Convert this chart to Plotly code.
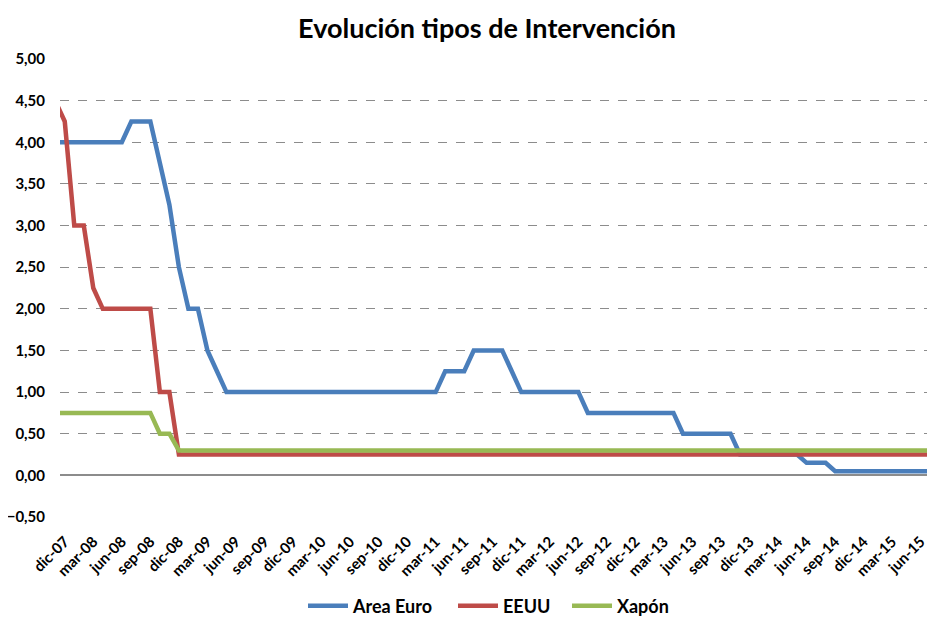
"""Evolución dos tipos de intervención: Area Euro, EEUU e Xapón."""

import plotly.graph_objects as go

MESES = ["ene", "feb", "mar", "abr", "may", "jun", "jul", "ago", "sep", "oct", "nov", "dic"]

# nov-07 queda fóra do rango visible (só se ve o tramo que entra polo bordo)
MES_ETIQUETAS = ["nov-07", "dic-07"] + [
    f"{m}-{a:02d}" for a in range(8, 16) for m in MESES
][:91]

AREA_EURO = [
    4.00, 4.00,
    4.00, 4.00, 4.00, 4.00, 4.00, 4.00, 4.25, 4.25, 4.25, 3.75, 3.25, 2.50,
    2.00, 2.00, 1.50, 1.25, 1.00, 1.00, 1.00, 1.00, 1.00, 1.00, 1.00, 1.00,
    1.00, 1.00, 1.00, 1.00, 1.00, 1.00, 1.00, 1.00, 1.00, 1.00, 1.00, 1.00,
    1.00, 1.00, 1.00, 1.25, 1.25, 1.25, 1.50, 1.50, 1.50, 1.50, 1.25, 1.00,
    1.00, 1.00, 1.00, 1.00, 1.00, 1.00, 0.75, 0.75, 0.75, 0.75, 0.75, 0.75,
    0.75, 0.75, 0.75, 0.75, 0.50, 0.50, 0.50, 0.50, 0.50, 0.50, 0.25, 0.25,
    0.25, 0.25, 0.25, 0.25, 0.25, 0.15, 0.15, 0.15, 0.05, 0.05, 0.05, 0.05,
    0.05, 0.05, 0.05, 0.05, 0.05, 0.05, 0.05,
]

EEUU = [
    4.50, 4.25,
    3.00, 3.00, 2.25, 2.00, 2.00, 2.00, 2.00, 2.00, 2.00, 1.00, 1.00, 0.25,
    0.25, 0.25, 0.25, 0.25, 0.25, 0.25, 0.25, 0.25, 0.25, 0.25, 0.25, 0.25,
    0.25, 0.25, 0.25, 0.25, 0.25, 0.25, 0.25, 0.25, 0.25, 0.25, 0.25, 0.25,
    0.25, 0.25, 0.25, 0.25, 0.25, 0.25, 0.25, 0.25, 0.25, 0.25, 0.25, 0.25,
    0.25, 0.25, 0.25, 0.25, 0.25, 0.25, 0.25, 0.25, 0.25, 0.25, 0.25, 0.25,
    0.25, 0.25, 0.25, 0.25, 0.25, 0.25, 0.25, 0.25, 0.25, 0.25, 0.25, 0.25,
    0.25, 0.25, 0.25, 0.25, 0.25, 0.25, 0.25, 0.25, 0.25, 0.25, 0.25, 0.25,
    0.25, 0.25, 0.25, 0.25, 0.25, 0.25, 0.25,
]

XAPON = [
    0.75, 0.75,
    0.75, 0.75, 0.75, 0.75, 0.75, 0.75, 0.75, 0.75, 0.75, 0.50, 0.50, 0.30,
    0.30, 0.30, 0.30, 0.30, 0.30, 0.30, 0.30, 0.30, 0.30, 0.30, 0.30, 0.30,
    0.30, 0.30, 0.30, 0.30, 0.30, 0.30, 0.30, 0.30, 0.30, 0.30, 0.30, 0.30,
    0.30, 0.30, 0.30, 0.30, 0.30, 0.30, 0.30, 0.30, 0.30, 0.30, 0.30, 0.30,
    0.30, 0.30, 0.30, 0.30, 0.30, 0.30, 0.30, 0.30, 0.30, 0.30, 0.30, 0.30,
    0.30, 0.30, 0.30, 0.30, 0.30, 0.30, 0.30, 0.30, 0.30, 0.30, 0.30, 0.30,
    0.30, 0.30, 0.30, 0.30, 0.30, 0.30, 0.30, 0.30, 0.30, 0.30, 0.30, 0.30,
    0.30, 0.30, 0.30, 0.30, 0.30, 0.30, 0.30,
]

SERIES = [("Area Euro", AREA_EURO, "#4A7EBB"), ("EEUU", EEUU, "#BE4B48"), ("Xapón", XAPON, "#98B954")]

# etiquetas cada tres meses, desde dic-07
TICKS_X = MES_ETIQUETAS[1::3]

FONT = "Lato"

# a páxina leva 8px de marxe no body: o gráfico vai desprazado esa cantidade
OFF = 8
W, H = 927, 610

# inicio (px na páxina) da liña de cada entrada da lenda
LEGEND_X = [308, 458, 572]
LEGEND_Y = 606

fig = go.Figure()
leg_layout = {}
for i, (nome, valores, cor) in enumerate(SERIES):
    key = "legend" if i == 0 else f"legend{i + 1}"
    fig.add_trace(
        go.Scatter(
            x=MES_ETIQUETAS,
            y=valores,
            mode="lines",
            name=nome,
            line=dict(color=cor, width=4.5),
            legend=key,
            showlegend=True,
        )
    )
    leg_layout[key] = dict(
        orientation="h",
        xref="container",
        yref="container",
        x=(LEGEND_X[i] - OFF - 5) / W,
        xanchor="left",
        y=1 - (LEGEND_Y - OFF) / H,
        yanchor="middle",
        font=dict(family=FONT, size=18, color="#000000", weight="bold"),
        itemwidth=40,
        bgcolor="rgba(0,0,0,0)",
    )

fig.update_layout(
    width=W,
    height=H,
    showlegend=True,
    margin=dict(l=60 - OFF, r=0, t=59 - OFF, b=H - (517 - OFF)),
    paper_bgcolor="white",
    plot_bgcolor="white",
    separators=",.",
    font=dict(family=FONT, color="#000000"),
    title=dict(
        text="<b>Evolución tipos de Intervención</b>",
        x=(487 - OFF) / W,
        xanchor="center",
        y=1 - (29 - OFF) / H,
        yanchor="middle",
        font=dict(family=FONT, size=27, color="#000000"),
    ),
    **leg_layout,
)

fig.update_xaxes(
    type="category",
    categoryorder="array",
    categoryarray=MES_ETIQUETAS,
    range=[0.5, len(MES_ETIQUETAS) - 0.5],
    tickmode="array",
    tickvals=TICKS_X,
    ticktext=TICKS_X,
    tickangle=-45,
    tickfont=dict(family=FONT, size=15, color="#000000", weight="bold"),
    showgrid=False,
    showline=False,
    zeroline=False,
    ticks="",
    ticklabelstandoff=12,
    automargin=False,
)

fig.update_yaxes(
    range=[-0.5, 5.0],
    dtick=0.5,
    tick0=0,
    tickformat=".2f",
    tickfont=dict(family=FONT, size=15, color="#000000", weight="bold"),
    showgrid=True,
    gridcolor="#8C8C8C",
    griddash="dash",
    gridwidth=1,
    zeroline=True,
    zerolinecolor="#8C8C8C",
    zerolinewidth=1.5,
    showline=False,
    ticks="",
    ticklabelstandoff=14,
    automargin=False,
)

fig.write_html("out.html")
